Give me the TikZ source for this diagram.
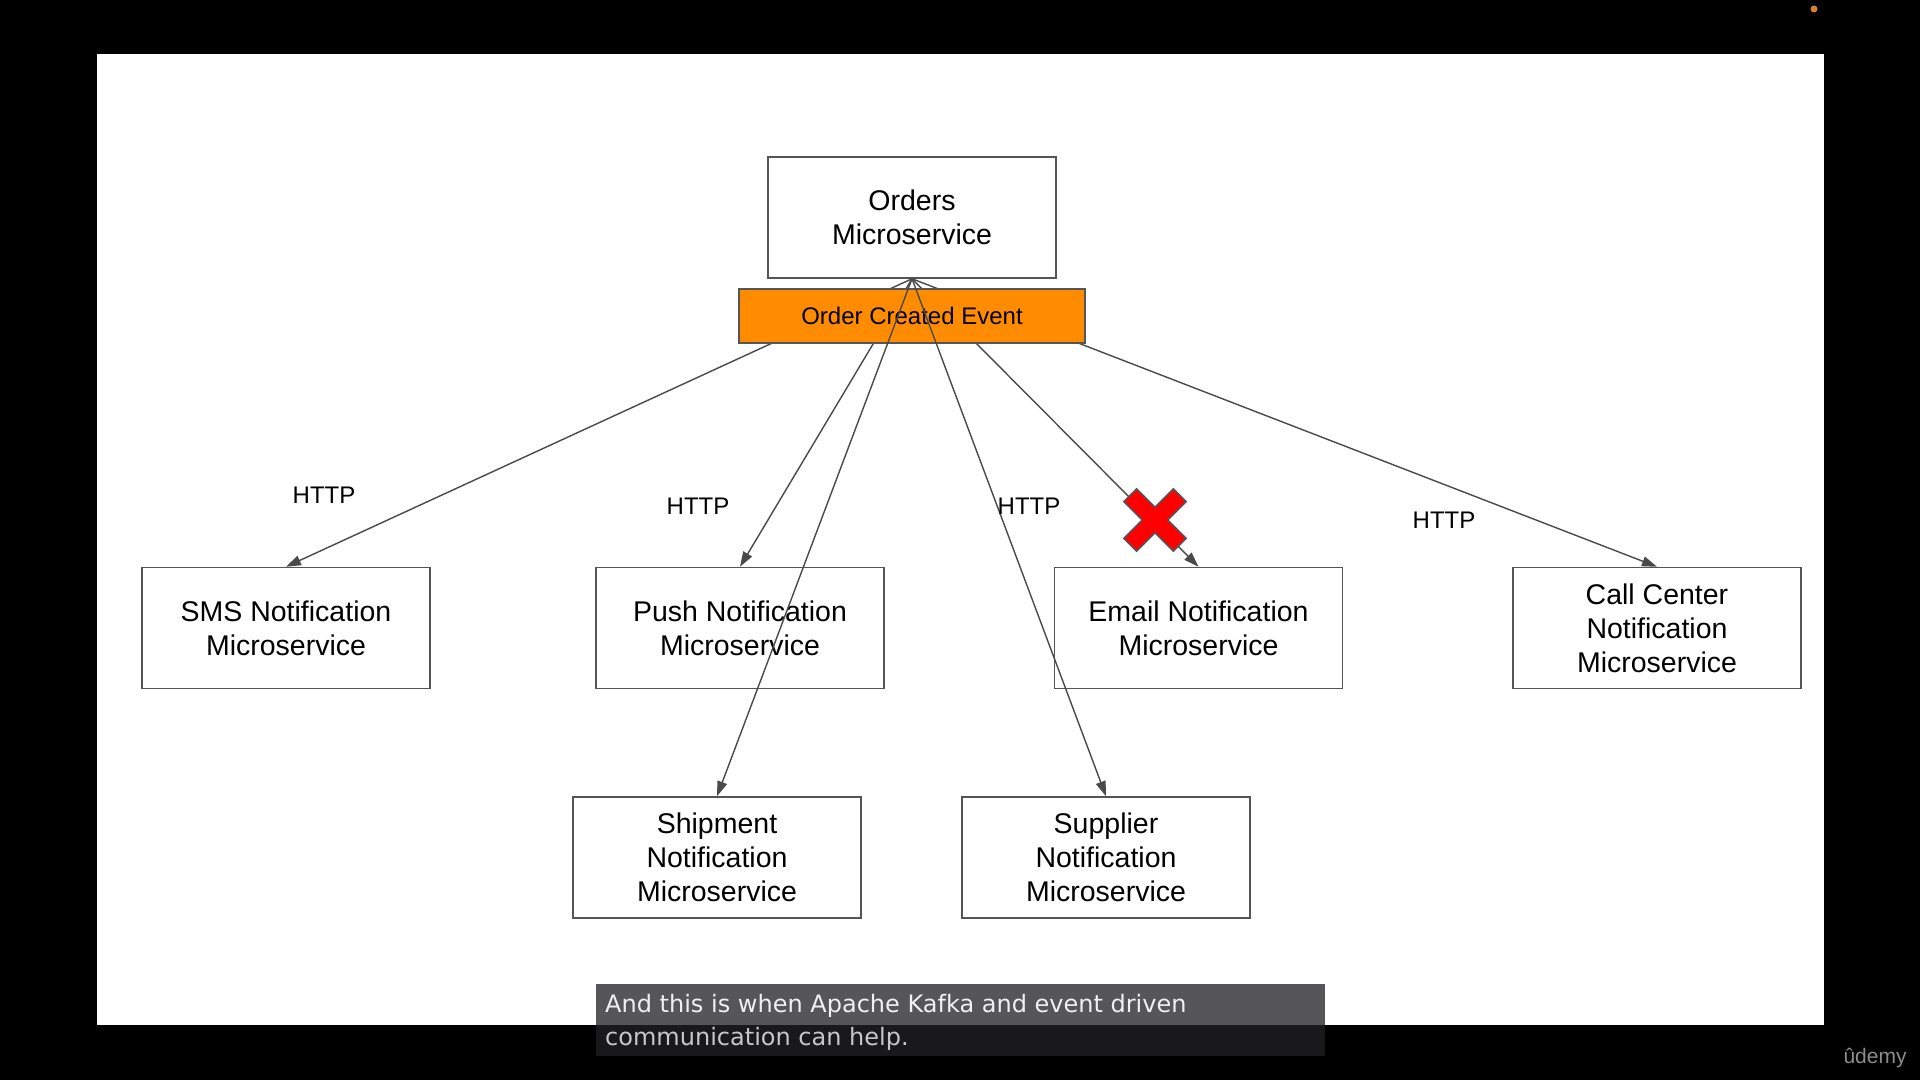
\documentclass[tikz,border=0pt]{standalone}
\usepackage{fontspec}
\setmainfont{Liberation Sans}
\newfontfamily\capfont{DejaVu Sans}
\usetikzlibrary{arrows.meta}

\definecolor{linegray}{HTML}{4A4A4A}
\definecolor{boxgray}{HTML}{555555}
\definecolor{eventorange}{HTML}{FF8C00}
\definecolor{capbg}{RGB}{34,34,38}
\definecolor{dotorange}{HTML}{D9822B}

\begin{document}
\begin{tikzpicture}[
  x=1pt, y=-1pt,
  service/.style={rectangle, draw=boxgray, line width=1.5pt, fill=white, minimum width=288pt, minimum height=121pt, align=center, font=\fontsize{28.5}{34}\selectfont},
  event/.style={rectangle, draw=boxgray, line width=1.5pt, fill=eventorange, minimum width=346pt, minimum height=54pt, font=\fontsize{24}{28}\selectfont},
  link/.style={draw=linegray, line width=1.4pt, -{Triangle[length=15pt,width=10pt]}},
  proto/.style={font=\fontsize{24}{28}\selectfont}
]
\useasboundingbox (0,0) rectangle (1920,1080);
\fill[black] (0,0) rectangle (1920,1080);
\fill[white] (97,54) rectangle (1824,1025);

% services
\node[service] (orders) at (912,217.5) {Orders\\Microservice};
\node[service] (sms) at (286,628) {SMS Notification\\Microservice};
\node[service] (push) at (740,628) {Push Notification\\Microservice};
\node[service] (email) at (1198.5,628) {Email Notification\\Microservice};
\node[service] (callcenter) at (1657,628) {Call Center\\Notification\\Microservice};
\node[service] (shipment) at (717,857.5) {Shipment\\Notification\\Microservice};
\node[service] (supplier) at (1106,857.5) {Supplier\\Notification\\Microservice};

% http calls, behind the event box
\draw[link] (orders.south) -- (sms.north);
\draw[link] (orders.south) -- (push.north);
\draw[link] (orders.south) -- (email.north);
\draw[link] (orders.south) -- (callcenter.north);

\node[event] (created) at (912,316) {Order Created Event};

\draw[link] (orders.south) -- (shipment.north);
\draw[link] (orders.south) -- (supplier.north);

\node[proto] (http1) at (324,495) {HTTP};
\node[proto] (http2) at (698,506) {HTTP};
\node[proto] (http3) at (1029,506) {HTTP};
\node[proto] (http4) at (1444,520) {HTTP};

% failed call
\filldraw[fill=red, draw=boxgray, line width=1.5pt, shift={(1155,520)}, rotate=45]
  (9,35) -- (9,9) -- (35,9) -- (35,-9) -- (9,-9) -- (9,-35) -- (-9,-35)
  -- (-9,-9) -- (-35,-9) -- (-35,9) -- (-9,9) -- (-9,35) -- cycle;

% subtitle and player marks
\fill[capbg, fill opacity=0.76] (596,984) rectangle (1325,1056);
\node[anchor=base west, inner sep=0pt, font=\capfont\fontsize{24}{33}\selectfont, text=white!94!black] (cap1) at (605,1012) {And this is when Apache Kafka and event driven};
\node[anchor=base west, inner sep=0pt, font=\capfont\fontsize{24}{33}\selectfont, text=white!78!black] (cap2) at (605,1045) {communication can help.};
\node[font=\fontsize{21}{24}\selectfont, text=white!55!black] (logo) at (1875,1058) {ûdemy};
\fill[dotorange] (1814,9) circle (3.5);
\end{tikzpicture}
\end{document}
